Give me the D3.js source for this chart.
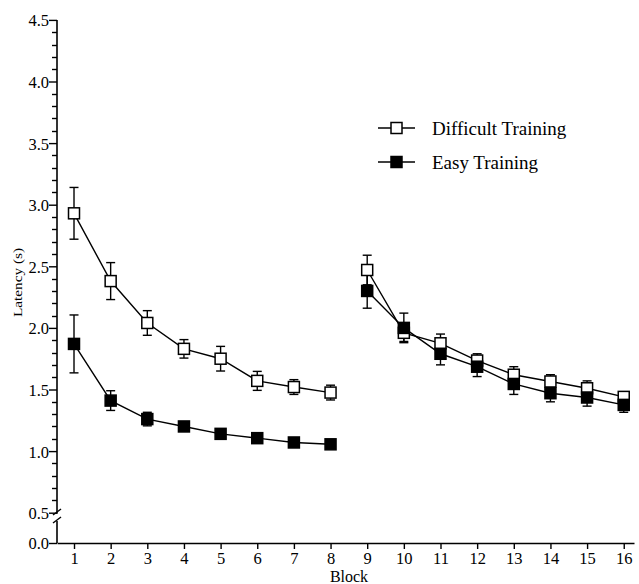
<!DOCTYPE html>
<html>
<head>
<meta charset="utf-8">
<script src="https://cdn.jsdelivr.net/npm/d3@7"></script>
<style>
body { margin: 0; background: #fff; }
</style>
</head>
<body>
<div id="chart"></div>
<script>
let width = 639,
	height = 584;

// data
let blocks = [1, 2, 3, 4, 5, 6, 7, 8, 9, 10, 11, 12, 13, 14, 15, 16];
let difficultMean = [2.93, 2.38, 2.04, 1.83, 1.75, 1.57, 1.52, 1.475, 2.47, 1.96, 1.875, 1.735, 1.62, 1.565, 1.51, 1.44];
let difficultErr = [0.21, 0.15, 0.10, 0.075, 0.10, 0.077, 0.06, 0.06, 0.12, 0.07, 0.075, 0.055, 0.065, 0.055, 0.06, 0.037];
let easyMean = [1.87, 1.41, 1.26, 1.20, 1.14, 1.105, 1.07, 1.055, 2.30, 2.00, 1.79, 1.685, 1.545, 1.47, 1.435, 1.375];
let easyErr = [0.235, 0.08, 0.055, 0.03, 0.025, 0.025, 0.02, 0.02, 0.14, 0.12, 0.09, 0.08, 0.085, 0.07, 0.07, 0.06];
let yTicks = [0.5, 1.0, 1.5, 2.0, 2.5, 3.0, 3.5, 4.0, 4.5];
let seriesNames = ["Difficult Training", "Easy Training"];

let serif = "Liberation Serif";

let svg = d3.select('#chart').append('svg')
	.attr('width', width)
	.attr('height', height)

let x = d3.scaleLinear().domain([0.536, 16.28]).range([57, 634]);
let y = d3.scaleLinear().domain([0.5, 4.5]).range([512.7, 19.9]);
let yLow = d3.scaleLinear().domain([0, 0.5]).range([543, 512.7]);

// y axis (upper part)
let yAxis = d3.axisLeft(y).tickValues(yTicks).tickFormat(d3.format('.1f')).tickSize(8).tickSizeOuter(0);
let gy = svg.append('g').attr('transform', 'translate(57,0)').call(yAxis);
gy.select('.domain').remove();
gy.selectAll('.tick line').attr('stroke', '#000').attr('stroke-width', 1.4);
gy.selectAll('.tick text').style('font-family', serif).style('font-size', '16.5px').attr('x', -8).attr('dy', '0.36em');

// minor ticks
let minor = d3.range(0.6, 4.5, 0.1).filter(function (d) { return Math.abs(d * 2 - Math.round(d * 2)) > 0.01; });
svg.selectAll('.minor').data(minor).enter().append('line')
	.attr('x1', 52).attr('x2', 57)
	.attr('y1', function (d) { return Math.round(y(d)) + 0.5; })
	.attr('y2', function (d) { return Math.round(y(d)) + 0.5; })
	.attr('stroke', '#000').attr('stroke-width', 1.4);

svg.append('line').attr('x1', 57).attr('x2', 57).attr('y1', y(4.5)).attr('y2', y(0.5) + 1)
	.attr('stroke', '#000').attr('stroke-width', 1.6);

// lower part of the broken axis
let gyl = svg.append('g').attr('transform', 'translate(57,0)')
	.call(d3.axisLeft(yLow).tickValues([0]).tickFormat(d3.format('.1f')).tickSize(8).tickSizeOuter(0));
gyl.select('.domain').remove();
gyl.selectAll('.tick line').attr('stroke', '#000').attr('stroke-width', 1.4);
gyl.selectAll('.tick text').style('font-family', serif).style('font-size', '16.5px').attr('x', -8).attr('dy', '0.36em');
svg.append('line').attr('x1', 57).attr('x2', 57).attr('y1', 543).attr('y2', 521)
	.attr('stroke', '#000').attr('stroke-width', 1.6);
// break marks
svg.append('line').attr('x1', 53).attr('x2', 61).attr('y1', 515).attr('y2', 509).attr('stroke', '#000').attr('stroke-width', 1.4);
svg.append('line').attr('x1', 53).attr('x2', 61).attr('y1', 523).attr('y2', 517).attr('stroke', '#000').attr('stroke-width', 1.4);

// x axis
let xAxis = d3.axisBottom(x).tickValues(blocks).tickFormat(d3.format('d')).tickSize(6).tickSizeOuter(0);
let gx = svg.append('g').attr('transform', 'translate(0,543)').call(xAxis);
gx.select('.domain').attr('stroke', '#000').attr('stroke-width', 1.6);
gx.selectAll('.tick line').attr('stroke', '#000').attr('stroke-width', 1.4);
gx.selectAll('.tick text').style('font-family', serif).style('font-size', '16.5px').attr('y', 9);

// axis titles
svg.append('text').attr('x', 349).attr('y', 582).attr('text-anchor', 'middle')
	.style('font-family', serif).style('font-size', '16px').text('Block');
svg.append('text').attr('transform', 'translate(22,282.5) rotate(-90)').attr('text-anchor', 'middle')
	.attr('textLength', 69).attr('lengthAdjust', 'spacingAndGlyphs')
	.style('font-family', serif).style('font-size', '12px').text('Latency (s)');

// build series
let series = [
	{ name: seriesNames[0], mean: difficultMean, err: difficultErr, fill: '#fff' },
	{ name: seriesNames[1], mean: easyMean, err: easyErr, fill: '#000' }
];

let line = d3.line().x(function (d) { return x(d.b); }).y(function (d) { return y(d.m); });

series.forEach(function (s) {
	let pts = blocks.map(function (b, i) { return { b: b, m: s.mean[i], e: s.err[i] }; });
	let segs = [pts.slice(0, 8), pts.slice(8)];
	segs.forEach(function (seg) {
		svg.append('path').datum(seg).attr('d', line)
			.attr('fill', 'none').attr('stroke', '#000').attr('stroke-width', 1.4);
	});
	let eb = svg.append('g');
	pts.forEach(function (d) {
		let cx = x(d.b);
		eb.append('line').attr('x1', cx).attr('x2', cx).attr('y1', y(d.m + d.e)).attr('y2', y(d.m - d.e))
			.attr('stroke', '#000').attr('stroke-width', 1.4);
		[d.m + d.e, d.m - d.e].forEach(function (v) {
			eb.append('line').attr('x1', cx - 4.5).attr('x2', cx + 4.5).attr('y1', y(v)).attr('y2', y(v))
				.attr('stroke', '#000').attr('stroke-width', 1.4);
		});
	});
	s.pts = pts;
});

series.forEach(function (s) {
	svg.selectAll(null).data(s.pts).enter().append('rect')
		.attr('x', function (d) { return x(d.b) - 5.5; })
		.attr('y', function (d) { return y(d.m) - 5.5; })
		.attr('width', 11).attr('height', 11)
		.attr('fill', s.fill).attr('stroke', '#000').attr('stroke-width', 1.5);
});

// legend
let legend = svg.append('g');
series.forEach(function (s, i) {
	let ly = 128 + i * 34;
	legend.append('line').attr('x1', 378).attr('x2', 415).attr('y1', ly).attr('y2', ly)
		.attr('stroke', '#000').attr('stroke-width', 1.4);
	legend.append('rect').attr('x', 391).attr('y', ly - 5.5).attr('width', 11).attr('height', 11)
		.attr('fill', s.fill).attr('stroke', '#000').attr('stroke-width', 1.5);
	legend.append('text').attr('x', 432).attr('y', ly).attr('dy', '0.35em')
		.style('font-family', serif).style('font-size', '19px').text(s.name);
});
</script>
</body>
</html>
